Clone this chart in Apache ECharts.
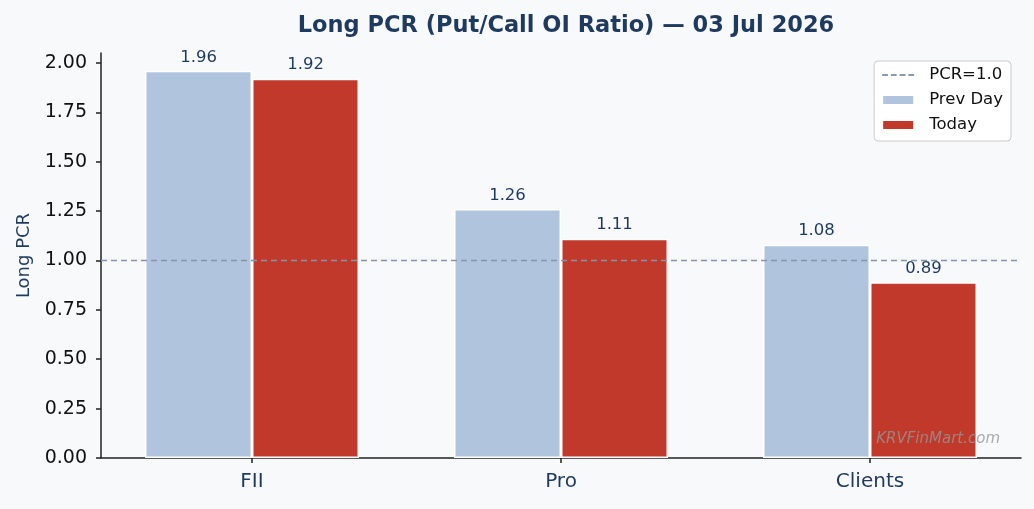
<!DOCTYPE html>
<html>
<head>
<meta charset="utf-8">
<script src="https://cdn.jsdelivr.net/npm/echarts@6/dist/echarts.min.js"></script>
<style>
html,body{margin:0;padding:0;background:#f8f9fb;}
#c{width:1034px;height:509px;}
</style>
</head>
<body>
<div id="c"></div>
<script>
const categories = ['FII', 'Pro', 'Clients'];
const prevDay = [1.96, 1.26, 1.08];
const today = [1.92, 1.11, 0.89];
const refLevel = 1.0;
const yTicks = [0, 0.25, 0.5, 0.75, 1.0, 1.25, 1.5, 1.75, 2.0];
const titleText = 'Long PCR (Put/Call OI Ratio) \u2014 03 Jul 2026';

const FONT = 'DejaVu Sans';
const NAVY = '#1f3a5f';
const dashIcon = 'path://M0,0h6v2h-6z M9,0h6v2h-6z M18,0h6v2h-6z M27,0h6v2h-6z';
const catIdx = categories.map((c, i) => i);

const chart = echarts.init(document.getElementById('c'));
chart.setOption({
  backgroundColor: '#f8f9fb',
  animation: false,
  textStyle: { fontFamily: FONT },
  title: {
    text: titleText,
    left: 561, top: 10, textAlign: 'center',
    textStyle: { fontFamily: FONT, fontSize: 22.5, fontWeight: 'bold', color: NAVY }
  },
  grid: { left: 101, right: 13, top: 53, bottom: 51 },
  legend: {
    orient: 'vertical',
    right: 23, top: 61,
    padding: [5, 8, 7, 7],
    itemGap: 7,
    itemWidth: 32, itemHeight: 10,
    backgroundColor: '#ffffff',
    borderColor: '#cccccc', borderWidth: 1, borderRadius: 4,
    textStyle: { fontFamily: FONT, fontSize: 16.5, lineHeight: 18, color: '#111', padding: [0, 0, 0, 10] },
    data: [
      { name: 'PCR=1.0', icon: dashIcon, itemStyle: { color: '#8a9ab0' } },
      { name: 'Prev Day', icon: 'rect' },
      { name: 'Today', icon: 'rect' }
    ]
  },
  xAxis: {
    type: 'value',
    min: -0.4887, max: catIdx.length - 1 + 0.4887,
    axisLine: { show: true, onZero: false, lineStyle: { color: '#222', width: 1.5 } },
    axisTick: { show: true, length: 5, customValues: catIdx, lineStyle: { color: '#222', width: 1.5 } },
    axisLabel: { fontFamily: FONT, fontSize: 20, color: NAVY, margin: 14,
                 customValues: catIdx, formatter: v => categories[Math.round(v)] },
    splitLine: { show: false }
  },
  yAxis: {
    type: 'value',
    min: 0, max: 2.05,
    name: 'Long PCR',
    nameLocation: 'middle',
    nameGap: 68,
    nameTextStyle: { fontFamily: FONT, fontSize: 18, color: NAVY },
    axisLine: { show: true, onZero: false, lineStyle: { color: '#222', width: 1.5 } },
    axisTick: { show: true, length: 5, customValues: yTicks, lineStyle: { color: '#222', width: 1.5 } },
    axisLabel: {
      fontFamily: FONT, fontSize: 19, color: '#111', margin: 14,
      customValues: yTicks,
      formatter: v => v.toFixed(2)
    },
    splitLine: { show: false }
  },
  series: [
    {
      name: 'Prev Day', type: 'bar', data: prevDay.map((v, i) => [i, v]),
      barWidth: 107, barGap: '0%',
      itemStyle: { color: '#b0c4de', borderColor: '#ffffff', borderWidth: 1.5 },
      label: { show: true, position: 'top', distance: 5, formatter: p => p.value[1].toFixed(2),
               fontFamily: FONT, fontSize: 16.5, color: NAVY }
    },
    {
      name: 'Today', type: 'bar', data: today.map((v, i) => [i, v]),
      barWidth: 107,
      itemStyle: { color: '#c0392b', borderColor: '#ffffff', borderWidth: 1.5 },
      label: { show: true, position: 'top', distance: 5, formatter: p => p.value[1].toFixed(2),
               fontFamily: FONT, fontSize: 16.5, color: NAVY }
    },
    {
      name: 'PCR=1.0', type: 'line', data: [], z: 10,
      itemStyle: { color: '#8a9ab0' },
      lineStyle: { color: '#8a9ab0', type: [6, 4], width: 1.3 },
      markLine: {
        silent: true, symbol: 'none', label: { show: false },
        lineStyle: { color: '#8394ab', type: [6, 4], width: 1.3 },
        data: [{ yAxis: refLevel }]
      }
    }
  ],
  graphic: [{
    type: 'text', right: 34, top: 432, z: 20,
    style: { text: 'KRVFinMart.com', fontFamily: FONT, fontStyle: 'italic', fontSize: 15,
             fill: 'rgba(150,150,150,0.8)' }
  }]
});
</script>
</body>
</html>
